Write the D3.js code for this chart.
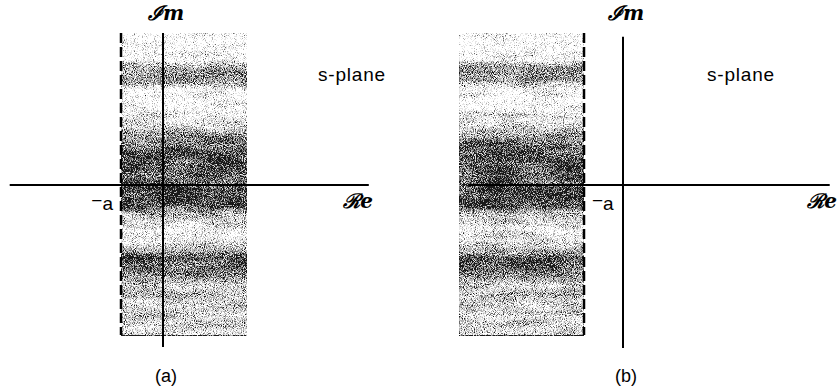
<!DOCTYPE html>
<html>
<head>
<meta charset="utf-8">
<script src="https://cdn.jsdelivr.net/npm/d3@7"></script>
<style>
    html, body { margin: 0; background: #fff; }
    svg { display: block; }
</style>
</head>
<body>
<svg id="chart"></svg>
<script>
const width = 839;
const height = 386;

// imaginary-axis positions (units of a) and how dark the scanned shading is there
const shadeIm   = [4.0, 3.3, 3.08, 2.76, 2.5, 2.1, 1.58, 1.1, 0.66, 0.13, -0.13, -0.53, -0.79, -1.18, -1.58, -1.92, -2.24, -2.63, -3.29, -3.95];
const shadeDark = [0.05, 0.14, 0.55, 0.58, 0.14, 0.1, 0.32, 0.7, 0.78, 0.72, 0.82, 0.8, 0.42, 0.2, 0.3, 0.78, 0.7, 0.4, 0.36, 0.3];

// one entry per panel
const panelLabels  = ['(a)', '(b)'];
const rocLeft      = [-1, -4.2];
const rocRight     = [2, -1];
const realAxisFrom = [-3.65, -3.97];
const realAxisTo   = [4.9, 5.3];
const imAxisTop    = [4.0, 3.9];
const imAxisBottom = [-4.26, -4.29];
const poleValue    = -1;

// layout only
const originX = [163, 623];
const unitX   = [42, 39];
const planeLabelX = [318, 707];
const reLabelX    = [373, 837];
const poleSide    = [-1, 1];

const svg = d3.select('#chart')
    .attr('width', width)
    .attr('height', height);

const y = d3.scaleLinear()
    .domain([-4, 4])
    .range([337, 33]);

const defs = svg.append('defs');

// halftone look: gray gradient + noise, then quantised into gray/black dots
const filter = defs.append('filter')
    .attr('id', 'stipple')
    .attr('x', 0).attr('y', 0).attr('width', 1).attr('height', 1)
    .attr('color-interpolation-filters', 'sRGB');

const toGray = '1 0 0 0 0  1 0 0 0 0  1 0 0 0 0  0 0 0 0 1';
filter.append('feTurbulence')
    .attr('type', 'fractalNoise').attr('baseFrequency', 1.1)
    .attr('numOctaves', 1).attr('seed', 3).attr('result', 'fine0');
filter.append('feColorMatrix')
    .attr('in', 'fine0').attr('type', 'matrix').attr('values', toGray).attr('result', 'fine');
filter.append('feTurbulence')
    .attr('type', 'fractalNoise').attr('baseFrequency', '0.025 0.1')
    .attr('numOctaves', 2).attr('seed', 11).attr('result', 'coarse0');
filter.append('feColorMatrix')
    .attr('in', 'coarse0').attr('type', 'matrix').attr('values', toGray).attr('result', 'coarse');
filter.append('feComposite')
    .attr('in', 'fine').attr('in2', 'coarse').attr('operator', 'arithmetic')
    .attr('k1', 0).attr('k2', 1).attr('k3', 0.25).attr('k4', -0.125).attr('result', 'noise');
filter.append('feComposite')
    .attr('in', 'SourceGraphic').attr('in2', 'noise').attr('operator', 'arithmetic')
    .attr('k1', 0).attr('k2', 1).attr('k3', 2.2).attr('k4', -1.1).attr('result', 'mix');
const transfer = filter.append('feComponentTransfer').attr('in', 'mix');
['feFuncR', 'feFuncG', 'feFuncB'].forEach(f => {
    transfer.append(f).attr('type', 'discrete').attr('tableValues', '0.1 0.42 0.7 0.9 1');
});

const yTop = y(d3.max(shadeIm));
const yBottom = y(d3.min(shadeIm));

const gradient = defs.append('linearGradient')
    .attr('id', 'shade')
    .attr('gradientUnits', 'userSpaceOnUse')
    .attr('x1', 0).attr('x2', 0)
    .attr('y1', yTop).attr('y2', yBottom);

gradient.selectAll('stop')
    .data(shadeIm)
    .enter()
    .append('stop')
        .attr('offset', d => (y(d) - yTop) / (yBottom - yTop))
        .attr('stop-color', (d, i) => {
            const v = Math.round(255 * (1 - shadeDark[i]));
            return d3.rgb(v, v, v);
        });

const scriptFont = sel => sel
    .style('font-family', '"DejaVu Serif", serif')
    .style('font-style', 'italic')
    .style('font-weight', 'bold')
    .style('font-size', '20px');

const sansFont = (sel, size) => sel
    .style('font-family', '"Liberation Sans", Arial, sans-serif')
    .style('font-size', size);

panelLabels.forEach((label, i) => {
    const x = d3.scaleLinear()
        .domain([0, 1])
        .range([originX[i], originX[i] + unitX[i]]);

    const g = svg.append('g').attr('class', 'panel');

    // region of convergence
    g.append('rect')
        .attr('x', x(rocLeft[i]))
        .attr('y', yTop)
        .attr('width', x(rocRight[i]) - x(rocLeft[i]))
        .attr('height', yBottom - yTop)
        .attr('fill', 'url(#shade)')
        .attr('filter', 'url(#stipple)');

    // boundary at Re{s} = -a
    g.append('line')
        .attr('x1', x(poleValue)).attr('x2', x(poleValue))
        .attr('y1', yTop).attr('y2', yBottom)
        .attr('stroke', '#000')
        .attr('stroke-width', 2.5)
        .attr('stroke-dasharray', '10 4');

    // axes
    g.append('line')
        .attr('x1', x(realAxisFrom[i])).attr('x2', x(realAxisTo[i]))
        .attr('y1', y(0)).attr('y2', y(0))
        .attr('stroke', '#000')
        .attr('stroke-width', 2);

    g.append('line')
        .attr('x1', x(0)).attr('x2', x(0))
        .attr('y1', y(imAxisTop[i])).attr('y2', y(imAxisBottom[i]))
        .attr('stroke', '#000')
        .attr('stroke-width', 2);

    // labels
    const im = g.append('text')
        .attr('x', x(0) + 3)
        .attr('y', 20)
        .attr('text-anchor', 'middle')
        .call(scriptFont);
    im.append('tspan').text('ℐ');
    im.append('tspan').text('m');

    const re = g.append('text')
        .attr('x', reLabelX[i])
        .attr('y', 208)
        .attr('text-anchor', 'end')
        .call(scriptFont);
    re.append('tspan').text('ℛ');
    re.append('tspan').text('e');

    g.append('text')
        .attr('x', planeLabelX[i])
        .attr('y', 81)
        .call(sansFont, '19px')
        .style('letter-spacing', '0.8px')
        .text('s-plane');

    const pole = g.append('text')
        .attr('x', x(poleValue) + poleSide[i] * 8)
        .attr('y', 210)
        .attr('text-anchor', poleSide[i] < 0 ? 'end' : 'start')
        .call(sansFont, '19px');
    pole.append('tspan').attr('dy', -3).text('−');
    pole.append('tspan').attr('dy', 3).text('a');

    g.append('text')
        .attr('x', x(0) + 3)
        .attr('y', 382)
        .attr('text-anchor', 'middle')
        .call(sansFont, '18px')
        .text(label);
});
</script>
</body>
</html>
